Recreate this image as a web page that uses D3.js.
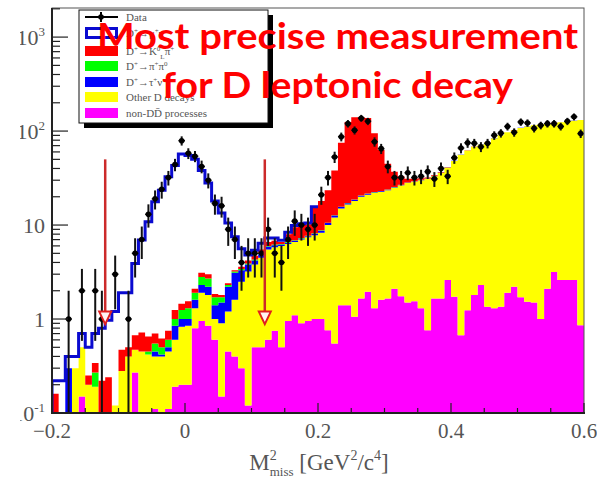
<!DOCTYPE html>
<html>
<head>
<meta charset="utf-8">
<script src="https://cdnjs.cloudflare.com/ajax/libs/d3/7.8.5/d3.min.js"></script>
<style>
  body { margin: 0; background: #fff; }
  svg { display: block; }
</style>
</head>
<body>
<div id="chart"></div>
<script>
// histogram: 80 bins of 0.01 GeV^2/c^4 from -0.2 to 0.6
var histRange = [-0.2, 0.6];
var nBins = 80;

// stacked MC components, events per bin (bottom to top)
var nonDD = [0,0,0,0,0.15,0,0,0,0,0, 0,0,0.27,0,0,0.11,0,0.11,0.19,0.2,
  0.2,0.8,0.95,0.85,0.6,0.15,0.45,0.4,0.3,0.12, 0.5,0.5,0.6,0.75,0.5,0.95,1.1,0.9,0.95,1.0,
  1.0,0.76,0.55,1.4,1.4,1.06,1.65,1.95,1.3,1.6, 1.65,2.1,1.75,1.5,1.55,1.3,0.76,1.65,1.65,2.6,
  1.73,0.67,1.24,1.8,2.3,1.35,1.3,1.35,1.9,2.2, 1.7,1.53,1.5,1.0,2.1,3.17,2.6,2.6,2.6,0.86];
var otherD = [0,0,0,0.3,0.35,0.2,0.19,0,0,0.12, 0.28,0.4,0.2,0.45,0.42,0.29,0.4,0.34,0.41,0.63,
  0.65,0.5,0.95,0.95,0.4,0.75,0.75,1.2,2.2,3.08, 3.3,4.0,4.9,5.05,5.5,5.35,5.5,6.1,6.45,6.8,
  7.3,9.24,11.45,13.6,15.1,16.94,18.35,19.05,20.7,21.0, 21.85,22.9,24.75,26.5,27.45,28.7,30.24,31.35,34.35,38.4,
  46.3,55.3,60.8,66.2,69.7,74.7,82.7,88.7,95.1,99.8, 106.3,110.5,113.5,117,117.9,118.8,121.4,124.4,126.4,130.1];
var tauNu = [0,0,0.3,0,0,0,0,0,0,0, 0,0,0,0,0,0.05,0.02,0.05,0.25,0.17,
  0.15,0.3,0.4,0.4,0.4,0.6,1.0,1.5,0.8,0.6, 0.4,0.4,0.4,0.3,0.2,0.2,0.2,0.2,0.2,0.3,
  0.4,0.5,0.6,0.6,0.6,0.6,0.5,0.5,0.4,0.4, 0.3,0.3,0.3,0.2,0.2,0.2,0.2,0.2,0.2,0.2,
  0.2,0.2,0.2,0.2,0.2,0.2,0.2,0.2,0.2,0.2, 0.2,0.2,0.2,0.2,0.2,0.2,0.2,0.2,0.2,0.2];
var pipi0 = [0,0,0,0,0,0,0.08,0,0,0, 0,0,0,0,0.03,0.1,0.08,0.1,0.15,0.25,
  0.3,0.3,0.5,0.5,0.3,0.2,0.1,0.1,0.1,0.1, 0.1,0.1,0.1,0.1,0.1,0.1,0.1,0.1,0.1,0.1,
  0.1,0.1,0.1,0.1,0.1,0.1,0.1,0.1,0.1,0.1, 0.1,0.1,0.1,0.1,0.1,0.1,0.1,0.1,0.1,0.1,
  0,0,0,0,0,0,0,0,0,0, 0,0,0,0,0,0,0,0,0,0];
var kpi = [0.16,0,0,0,0,0.05,0.07,0.22,0.24,0, 0.19,0.1,0.2,0.27,0.2,0.15,0.12,0.15,0.25,0.2,
  0.25,0.2,0.3,0.3,0.15,0.1,0.1,0.1,0.2,0.3, 0.4,0.5,0.6,0.6,0.3,1.4,2.6,2.7,2.5,7.3,
  9.2,12.9,25.3,59.3,107.8,121.3,120.4,116.4,72.5,39.9, 21.1,11.6,6.1,2.7,1.7,1.2,0.7,0.5,0.3,0.2,
  0.2,0.2,0.2,0.2,0.2,0.2,0.2,0.2,0.2,0.2, 0.2,0.2,0.2,0.2,0.2,0.2,0.2,0.2,0.2,0.2];
var muNu = [0.06,0.22,0.1,0.1,0.2,0.25,0.36,0.58,0.73,1.08, 1.43,1.4,3.23,6.2,10.2,17,22.9,31.9,41.8,55.5,
  53.5,47.9,34.9,25,16.2,11.6,8.1,4.2,2.0,0.6, 0.7,0.9,0.7,0.5,0.3,0.4,0.4,0.3,0.3,0.2,
  0,0,0,0,0,0,0,0,0,0, 0,0,0,0,0,0,0,0,0,0,
  0,0,0,0,0,0,0,0,0,0, 0,0,0,0,0,0,0,0,0,0];

// data, events per bin
var dataCounts = [0,0,1,0,2,0,2,1,0,3, 0,1,5,7,13,19,24,32,44,79,
  58,54,42,30,17,16,9,7,4,5, 5,5,9,5,4,7,11,10,9,10,
  21,32,53,87,120,102,137,127,77,65, 42,32,32,36,32,33,37,31,40,33,
  52,66,75,74,68,74,90,95,112,97, 125,122,107,115,120,120,112,127,142,94];

var xTicks = [-0.2, 0, 0.2, 0.4, 0.6];
var yTicks = [{v: 0.1, b: '10', e: '-1'}, {v: 1, b: '1', e: ''}, {v: 10, b: '10', e: ''},
  {v: 100, b: '10', e: '2'}, {v: 1000, b: '10', e: '3'}];
var cutValues = [-0.12, 0.12];

var layers = [
  {key: 'nonDD', color: '#ff00ff'},
  {key: 'otherD', color: '#ffff00'},
  {key: 'tauNu', color: '#0000ff'},
  {key: 'pipi0', color: '#00ff00'},
  {key: 'kpi', color: '#ff0000'},
  {key: 'muNu', color: 'none'}
];

var width = 597, height = 481;
var serif = '"Liberation Serif", "DejaVu Serif", serif';
var svg = d3.select('#chart').append('svg')
    .attr('width', width)
    .attr('height', height);

var x = d3.scaleLinear().domain(histRange).range([52, 584]);
var y = d3.scaleLog().domain([0.1, 2040]).range([413, 8]).clamp(true);
var binWidth = (histRange[1] - histRange[0]) / nBins;

var rows = d3.range(nBins).map(function(i) {
    return {
        lo: histRange[0] + i * binWidth,
        hi: histRange[0] + (i + 1) * binWidth,
        nonDD: nonDD[i], otherD: otherD[i], tauNu: tauNu[i],
        pipi0: pipi0[i], kpi: kpi[i], muNu: muNu[i]
    };
});

var stacked = d3.stack().keys(layers.map(function(l) { return l.key; }))(rows);

function ys(v) { return y(Math.max(v, 0.05)); }

var stepArea = d3.area()
    .x(function(p) { return x(p.x); })
    .y0(function(p) { return ys(p.y0); })
    .y1(function(p) { return ys(p.y1); });

var defs = svg.append('defs');
defs.append('clipPath').attr('id', 'clip')
    .append('rect').attr('x', 52).attr('y', 8).attr('width', 532).attr('height', 405);
// the pad cuts off anything left of x = 20
defs.append('clipPath').attr('id', 'padclip')
    .append('rect').attr('x', 20).attr('y', 0).attr('width', 577).attr('height', 481);

var body = svg.append('g').attr('clip-path', 'url(#clip)');

stacked.forEach(function(series, k) {
    if (layers[k].color === 'none') return;
    var pts = [];
    series.forEach(function(d) {
        pts.push({x: d.data.lo, y0: d[0], y1: d[1]});
        pts.push({x: d.data.hi, y0: d[0], y1: d[1]});
    });
    body.append('path')
        .attr('d', stepArea(pts))
        .style('fill', layers[k].color)
        .style('stroke', 'none');
});

// open blue histogram (signal on top of the stack), where signal is present
var sigLayer = stacked[stacked.length - 1];
var sigPts = [];
sigLayer.forEach(function(d, i) {
    if (muNu[i] > 0) {
        sigPts.push([x(d.data.lo), ys(d[1])]);
        sigPts.push([x(d.data.hi), ys(d[1])]);
    }
});
sigPts.unshift([sigPts[0][0], y(0.1)]);
body.append('path')
    .attr('d', d3.line()(sigPts))
    .style('fill', 'none')
    .style('stroke', '#0a0ad0')
    .style('stroke-width', 3);

// data points with errors
var dataG = body.append('g');
rows.forEach(function(r, i) {
    var n = dataCounts[i];
    if (!n) return;
    var cx = x((r.lo + r.hi) / 2);
    var err = Math.sqrt(n);
    dataG.append('line')
        .attr('x1', cx).attr('x2', cx)
        .attr('y1', ys(n + err)).attr('y2', ys(n - err))
        .style('stroke', '#111').style('stroke-width', 2);
    dataG.append('line')
        .attr('x1', x(r.lo)).attr('x2', x(r.hi))
        .attr('y1', y(n)).attr('y2', y(n))
        .style('stroke', '#111').style('stroke-width', 1.5);
    dataG.append('circle')
        .attr('cx', cx).attr('cy', y(n)).attr('r', 2.8)
        .style('fill', '#000');
});

// signal region cuts
cutValues.forEach(function(c) {
    var cx = x(c);
    body.append('line')
        .attr('x1', cx).attr('x2', cx)
        .attr('y1', y(50)).attr('y2', y(1.2))
        .style('stroke', '#cc2a2a').style('stroke-width', 2.5);
    body.append('path')
        .attr('d', 'M' + (cx - 6) + ',' + y(1.2) + 'L' + (cx + 6) + ',' + y(1.2) + 'L' + cx + ',' + y(0.88) + 'Z')
        .style('fill', '#fff4f4')
        .style('stroke', '#e02020').style('stroke-width', 2);
});

// frame
svg.append('rect')
    .attr('x', 52).attr('y', 8).attr('width', 532).attr('height', 405)
    .style('fill', 'none').style('stroke', '#555').style('stroke-width', 1);
svg.append('line').attr('x1', 52).attr('x2', 52).attr('y1', 8).attr('y2', 414)
    .style('stroke', '#222').style('stroke-width', 2);
svg.append('line').attr('x1', 51).attr('x2', 585).attr('y1', 413).attr('y2', 413)
    .style('stroke', '#222').style('stroke-width', 2);

// y ticks (log, inward)
var yAxisG = svg.append('g');
[0.1, 1, 10, 100, 1000].forEach(function(dec) {
    d3.range(1, 10).forEach(function(k) {
        var v = dec * k;
        if (v > 2040) return;
        yAxisG.append('line')
            .attr('x1', 52).attr('x2', 52 + (k === 1 ? 16 : 8))
            .attr('y1', y(v)).attr('y2', y(v))
            .style('stroke', '#222').style('stroke-width', 1.2);
    });
});
var yLabelG = svg.append('g').attr('clip-path', 'url(#padclip)');
yTicks.forEach(function(t) {
    var txt = yLabelG.append('text')
        .attr('x', 45).attr('y', y(t.v) + 8)
        .attr('text-anchor', 'end')
        .style('font-family', serif)
        .style('font-size', '22px')
        .style('fill', '#555');
    txt.append('tspan').text(t.b);
    if (t.e) {
        txt.append('tspan').attr('dy', -9).style('font-size', '13px').text(t.e);
    }
});

// x ticks (inward)
var xAxisG = svg.append('g');
d3.range(0, 17).forEach(function(k) {
    var v = histRange[0] + k * 0.05;
    var major = k % 4 === 0;
    xAxisG.append('line')
        .attr('x1', x(v)).attr('x2', x(v))
        .attr('y1', 413).attr('y2', 413 - (major ? 10 : 5))
        .style('stroke', '#222').style('stroke-width', 1.2);
});
xTicks.forEach(function(v) {
    xAxisG.append('text')
        .attr('x', x(v)).attr('y', 438)
        .attr('text-anchor', 'middle')
        .style('font-family', serif)
        .style('font-size', '21px')
        .style('fill', '#555')
        .text(d3.format('~g')(v));
});

var title = svg.append('text')
    .attr('x', 319).attr('y', 470)
    .attr('text-anchor', 'middle')
    .style('font-family', serif)
    .style('font-size', '23px')
    .style('fill', '#555');
title.append('tspan').text('M');
title.append('tspan').attr('dy', -10).style('font-size', '14px').text('2');
title.append('tspan').attr('dx', -7).attr('dy', 16).style('font-size', '13px').text('miss');
title.append('tspan').attr('dy', -6).text(' [GeV');
title.append('tspan').attr('dy', -10).style('font-size', '14px').text('2');
title.append('tspan').attr('dy', 10).text('/c');
title.append('tspan').attr('dy', -10).style('font-size', '14px').text('4');
title.append('tspan').attr('dy', 10).text(']');

// legend
var legend = svg.append('g');
legend.append('rect').attr('x', 84).attr('y', 15).attr('width', 189).attr('height', 113)
    .style('fill', '#000');
legend.append('rect').attr('x', 79).attr('y', 10).attr('width', 189).attr('height', 113)
    .style('fill', '#fff').style('stroke', '#111').style('stroke-width', 1);

var legendRows = [
    {cy: 17, type: 'data', parts: [['Data']]},
    {cy: 33, type: 'open', color: '#0a0ad0', parts: [['D'], ['+', 'sup'], ['\u2192\u03bc'], ['+', 'sup'], ['\u03bd']]},
    {cy: 51, type: 'fill', color: '#ff0000', parts: [['D'], ['+', 'sup'], ['\u2192K'], ['0', 'sup'], ['L', 'sub'], ['\u03c0'], ['+', 'sup']]},
    {cy: 66, type: 'fill', color: '#00ff00', parts: [['D'], ['+', 'sup'], ['\u2192\u03c0'], ['+', 'sup'], ['\u03c0'], ['0', 'sup']]},
    {cy: 82, type: 'fill', color: '#0000ff', parts: [['D'], ['+', 'sup'], ['\u2192\u03c4'], ['+', 'sup'], ['\u03bd']]},
    {cy: 97, type: 'fill', color: '#ffff00', parts: [['Other D decays']]},
    {cy: 113, type: 'fill', color: '#ff00ff', parts: [['non-D'], ['D\u0304'], [' processes']]}
];
legendRows.forEach(function(r) {
    if (r.type === 'data') {
        legend.append('line').attr('x1', 85).attr('x2', 118).attr('y1', r.cy).attr('y2', r.cy)
            .style('stroke', '#000').style('stroke-width', 2);
        legend.append('line').attr('x1', 101).attr('x2', 101).attr('y1', r.cy - 5).attr('y2', r.cy + 5)
            .style('stroke', '#000').style('stroke-width', 2);
        legend.append('circle').attr('cx', 101).attr('cy', r.cy).attr('r', 2.8).style('fill', '#000');
    } else if (r.type === 'open') {
        legend.append('rect').attr('x', 86.5).attr('y', r.cy - 4.5).attr('width', 30).attr('height', 9)
            .style('fill', 'none').style('stroke', r.color).style('stroke-width', 3);
    } else {
        legend.append('rect').attr('x', 85).attr('y', r.cy - 5).attr('width', 33).attr('height', 10)
            .style('fill', r.color);
    }
    var t = legend.append('text')
        .attr('x', 126).attr('y', r.cy + 4)
        .style('font-family', serif)
        .style('font-size', '11px')
        .style('fill', '#555');
    r.parts.forEach(function(p) {
        var s = t.append('tspan').text(p[0]);
        if (p[1] === 'sup') s.attr('baseline-shift', 'super').style('font-size', '7px');
        if (p[1] === 'sub') s.attr('baseline-shift', 'sub').style('font-size', '7px');
    });
});

// overlay annotation
var note = svg.append('g')
    .style('font-family', 'Lato, "Open Sans", sans-serif')
    .style('font-weight', 700)
    .style('fill', '#ff0000');
note.append('text')
    .attr('x', 337.5).attr('y', 49)
    .attr('text-anchor', 'middle')
    .attr('textLength', 481).attr('lengthAdjust', 'spacingAndGlyphs')
    .style('font-size', '36px')
    .text('Most precise measurement');
note.append('text')
    .attr('x', 337.5).attr('y', 98)
    .attr('text-anchor', 'middle')
    .attr('textLength', 351).attr('lengthAdjust', 'spacingAndGlyphs')
    .style('font-size', '36px')
    .text('for D leptonic decay');
</script>
</body>
</html>
